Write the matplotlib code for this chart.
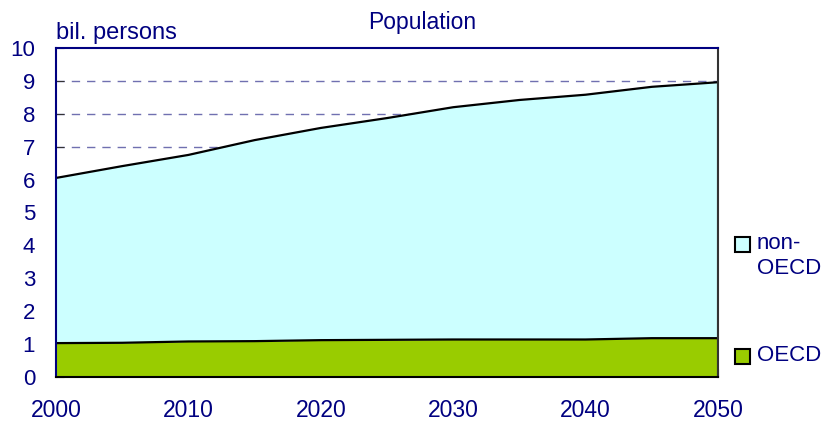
import matplotlib
matplotlib.use("Agg")
import matplotlib.pyplot as plt
from matplotlib.patches import Rectangle

plt.rcParams['font.family'] = ['Liberation Sans', 'DejaVu Sans']

years = [2000, 2005, 2010, 2015, 2020, 2025, 2030, 2035, 2040, 2045, 2050]
oecd = [1.03, 1.04, 1.08, 1.09, 1.12, 1.13, 1.14, 1.14, 1.14, 1.18, 1.18]
total = [6.05, 6.41, 6.75, 7.20, 7.57, 7.87, 8.20, 8.42, 8.58, 8.82, 8.96]
non_oecd = [t - o for t, o in zip(total, oecd)]
xticks = [2000, 2010, 2020, 2030, 2040, 2050]
yticks = list(range(0, 11))
series_labels = ['OECD', 'non-\nOECD']

navy = '#000080'
c_oecd = '#99cc00'
c_non = '#ccffff'
W, H = 826, 422
fig = plt.figure(figsize=(W/100, H/100), dpi=100)
ax = fig.add_axes([56/W, 1-377/H, (718-56)/W, (377-48)/H])

top = [o + n for o, n in zip(oecd, non_oecd)]
ax.fill_between(years, 0, oecd, color=c_oecd, zorder=2, linewidth=0)
ax.fill_between(years, oecd, top, color=c_non, zorder=2, linewidth=0)
ax.plot(years, oecd, color='black', lw=1.6, zorder=3)
ax.plot(years, top, color='black', lw=1.6, zorder=3)
ax.vlines(2050, 0, top[-1], color='#333333', lw=1.5, zorder=3)

for y in yticks[1:-1]:
    ax.axhline(y, color='#7070b0', lw=1, ls=(0, (6, 5)), zorder=1)

ax.set_xlim(2000, 2050)
ax.set_ylim(0, 10)
ax.set_yticks(yticks)
ax.set_xticks(xticks)
ax.set_xticks(years, minor=True)
ax.tick_params(axis='both', which='both', direction='in', colors='#333333', labelcolor=navy)
ax.tick_params(axis='x', which='both', length=6, pad=15.5, labelsize=16.5)
ax.tick_params(axis='y', length=6, pad=15, labelsize=16)
for lab in ax.get_yticklabels() + ax.get_xticklabels():
    lab.set_color(navy)

ax.spines['top'].set_color(navy)
ax.spines['left'].set_color(navy)
ax.spines['bottom'].set_color('black')
ax.spines['right'].set_color('#333333')
for s in ax.spines.values():
    s.set_linewidth(1.5)
    s.set_zorder(4)

fig.text(422/W, 1-22/H, 'Population', fontsize=16.5, color=navy, va='center', ha='center')
fig.text(56/W, 1-33/H, 'bil. persons', fontsize=17, color=navy, va='center', ha='left')

# legend (manual, squares aligned to first text line as in reference)
legend_items = [(c_non, series_labels[1], 237), (c_oecd, series_labels[0], 349)]
for color, label, ytop in legend_items:
    fig.patches.append(Rectangle((735/W, 1-(ytop+15)/H), 15/W, 15/H, transform=fig.transFigure,
                                 facecolor=color, edgecolor='black', lw=1.5))
    fig.text(757/W, 1-(ytop-4)/H, label, fontsize=16, color=navy, va='top', ha='left',
             linespacing=1.25)

fig.savefig('out.png', dpi=100)
